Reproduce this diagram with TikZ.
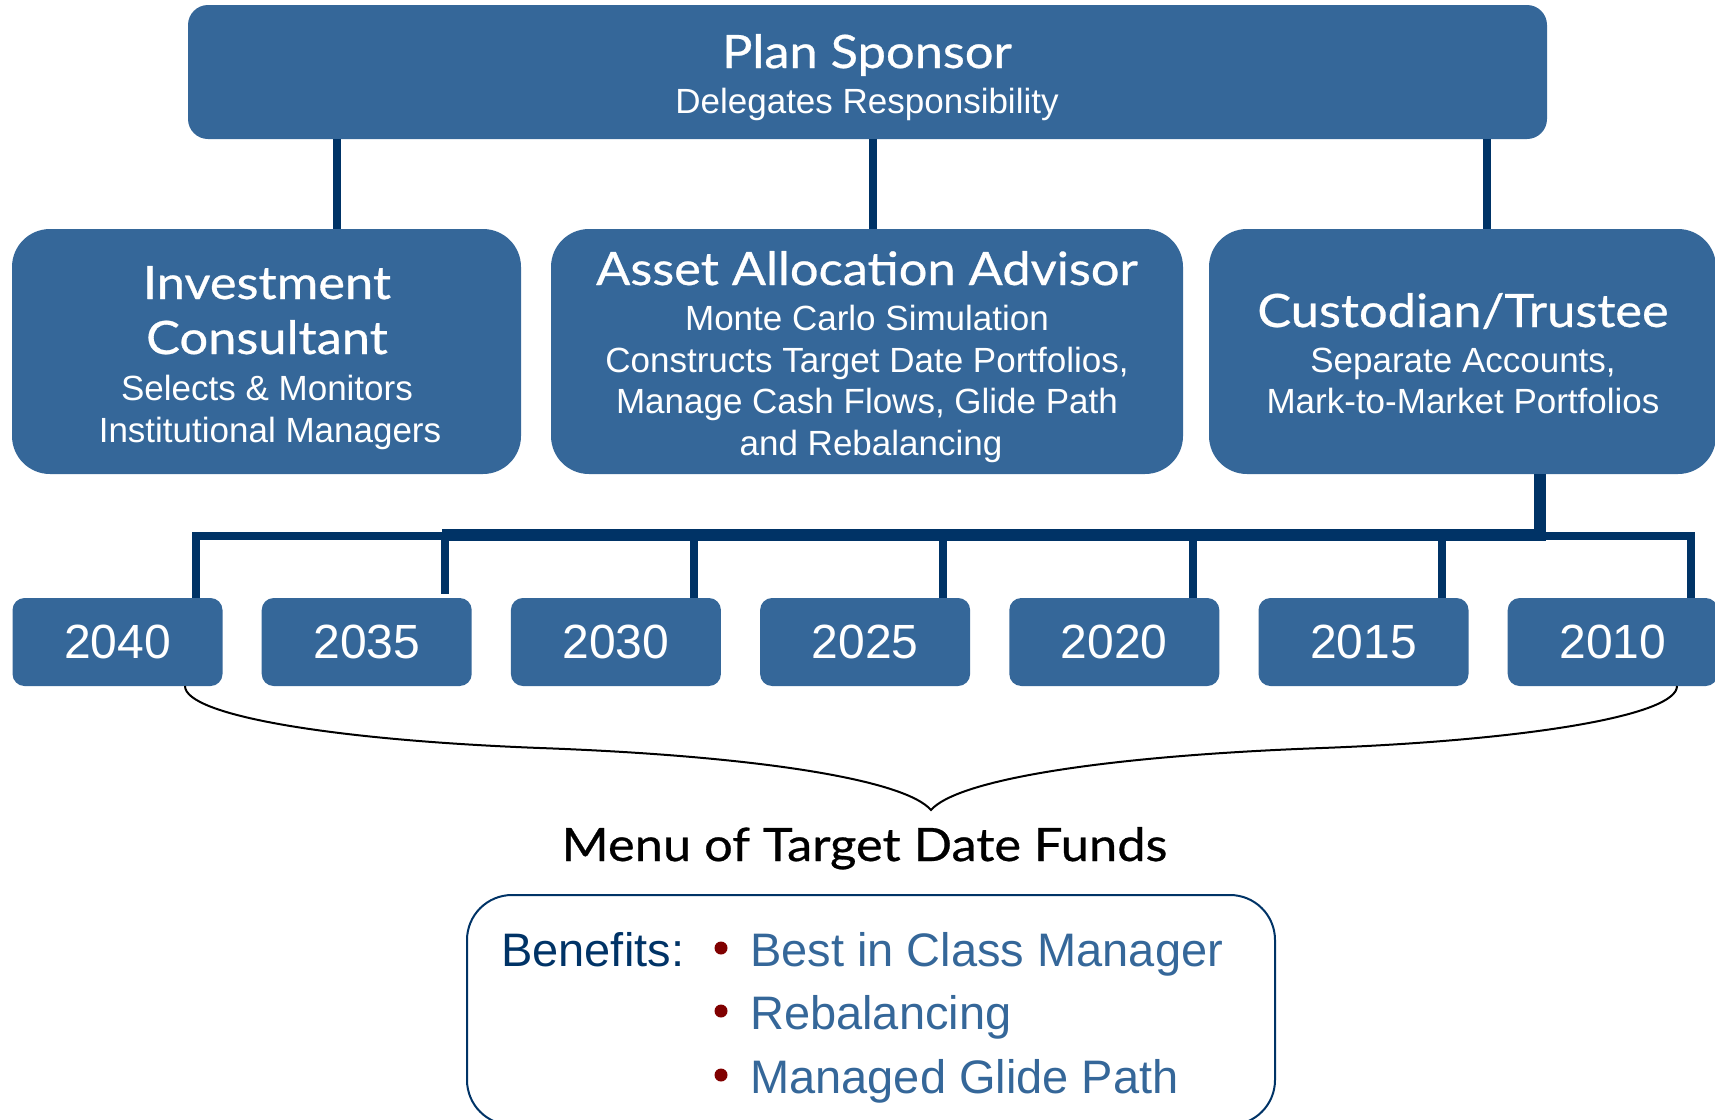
\documentclass[tikz,border=0pt]{standalone}
\usepackage{fontspec}
\setmainfont{Liberation Sans}
\newfontfamily\headfont[FakeStretch=1.1,FakeBold=0.6]{Lato}
\definecolor{boxblue}{RGB}{53,103,153}
\definecolor{navy}{RGB}{0,51,102}
\definecolor{dotred}{RGB}{128,0,0}

\begin{document}
\begin{tikzpicture}[x=1pt,y=-1pt,
   box/.style={fill=boxblue,rounded corners=38pt,inner sep=0pt,minimum height=245pt},
   yearbox/.style={fill=boxblue,rounded corners=12pt,inner sep=0pt,minimum width=210pt,minimum height=88pt,
      text=white,font=\fontsize{48}{56}\selectfont},
   head/.style={text=white,font=\headfont\fontsize{46}{55}\selectfont,anchor=base,inner sep=0pt},
   sub/.style={text=white,font=\fontsize{35}{42}\selectfont,anchor=base,inner sep=0pt},
   bullet/.style={circle,fill=dotred,inner sep=0pt,minimum size=13pt},
   item/.style={text=boxblue,font=\fontsize{47}{56}\selectfont,anchor=base west,inner sep=0pt},
   wire/.style={navy,line width=8pt},
   trunk/.style={navy,line width=12pt}]
   \useasboundingbox (0,0) rectangle (1715,1119);

   % boxes
   \node[box,minimum width=1359pt,minimum height=134pt,rounded corners=20pt] (sponsor) at (867.5,72) {};
   \node[box,minimum width=509pt] (consultant) at (266.5,351.5) {};
   \node[box,minimum width=632pt] (advisor) at (867,351.5) {};
   \node[box,minimum width=507pt] (custodian) at (1462.5,351.5) {};

   \node[head] (sp1) at (867,68)  {Plan Sponsor};
   \node[sub]  (sp2) at (867,113) {Delegates Responsibility};

   \node[head] (ic1) at (267,299) {Investment};
   \node[head] (ic2) at (267,354) {Consultant};
   \node[sub]  (ic3) at (267,400) {Selects \& Monitors};
   \node[sub]  (ic4) at (270,442) {Institutional Managers};

   \node[head] (aa1) at (867,285) {Asset Allocation Advisor};
   \node[sub]  (aa2) at (867,330) {Monte Carlo Simulation};
   \node[sub]  (aa3) at (867,372) {Constructs Target Date Portfolios,};
   \node[sub]  (aa4) at (867,413) {Manage Cash Flows, Glide Path};
   \node[sub]  (aa5) at (871,455) {and Rebalancing};

   \node[head] (ct1) at (1463,327) {Custodian/Trustee};
   \node[sub]  (ct2) at (1463,372) {Separate Accounts,};
   \node[sub]  (ct3) at (1463,413) {Mark-to-Market Portfolios};

   % funds
   \foreach \yr [count=\i] in {2040,2035,2030,2025,2020,2015,2010}{
      \node[yearbox] (y\i) at ({117.5+249.2*(\i-1)},642) {\yr};
      \coordinate (t\i) at ([xshift=-27pt]y\i.north east);
   }

   % connectors
   \coordinate (c1) at (337,0);
   \coordinate (c2) at (873,0);
   \coordinate (c3) at (1487,0);
   \draw[wire] (sponsor.south -| c1) -- (consultant.north -| c1);
   \draw[wire] (sponsor.south -| c2) -- (advisor.north -| c2);
   \draw[wire] (sponsor.south -| c3) -- (custodian.north -| c3);

   \coordinate (bus) at (931,536);
   \coordinate (busL) at (442,535);
   \coordinate (busR) at (1540,535);
   \draw[wire] (t1) |- (bus) -| (t7);
   \draw[wire,shorten <=4pt] (t2) -- (t2 |- bus);
   \foreach \i in {3,...,6}
      \draw[wire] (t\i) -- (t\i |- bus);
   \draw[trunk] (custodian.south -| busR) |- (busL);

   % brace
   \coordinate (braceL) at (185,686);
   \coordinate (braceR) at (1677,686);
   \coordinate (tip) at (931,810);
   \draw[line width=2pt] (braceL) .. controls (185,715) and (330,740) .. (540,748)
      .. controls (760,756) and (905,780) .. (tip)
      .. controls (957,780) and (1102,756) .. (1322,748)
      .. controls (1532,740) and (1677,715) .. (braceR);

   \node[anchor=base,inner sep=0pt,font=\headfont\fontsize{46}{55}\selectfont] (menu) at (864.5,861) {Menu of Target Date Funds};

   % benefits
   \node[draw=navy,line width=2pt,rounded corners=45pt,minimum width=808pt,minimum height=230pt] (benefits) at (871,1010) {};
   \node[item,text=navy] (ben) at (501,966) {Benefits:};
   \node[bullet] (d1) at (721,948) {};
   \node[bullet] (d2) at (721,1011) {};
   \node[bullet] (d3) at (721,1075) {};
   \node[item] (b1) at (750,966)  {Best in Class Manager};
   \node[item] (b2) at (750,1029) {Rebalancing};
   \node[item] (b3) at (750,1093) {Managed Glide Path};
\end{tikzpicture}
\end{document}
